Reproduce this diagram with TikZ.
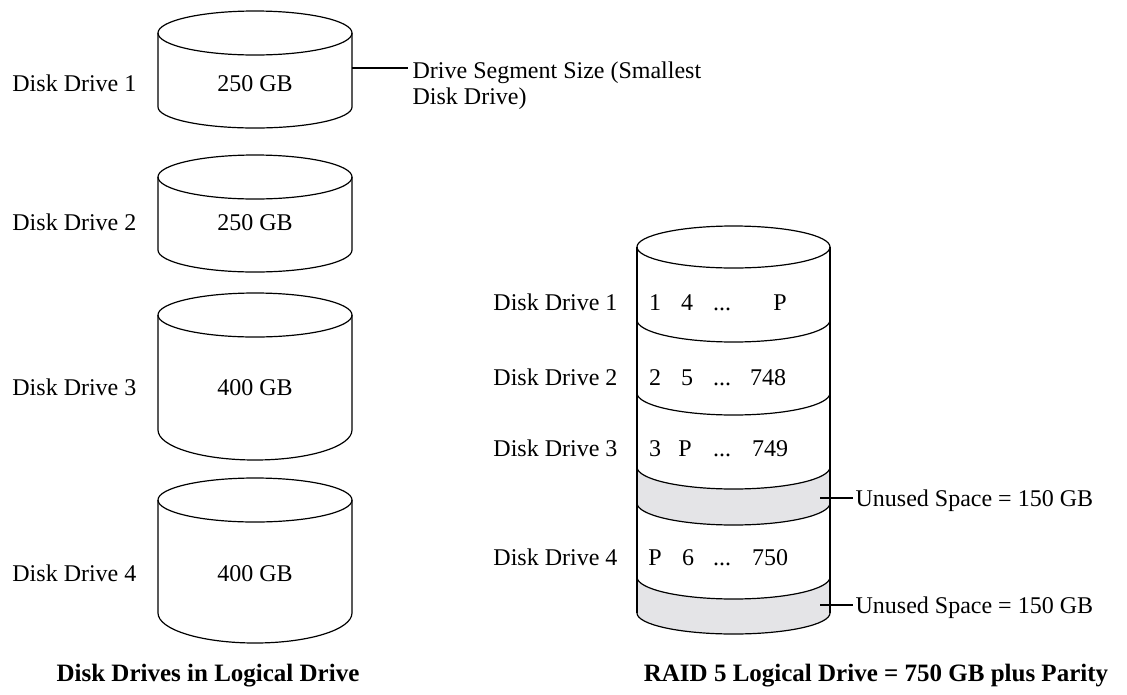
\documentclass[tikz,border=0pt]{standalone}
\usepackage{xcolor}
\usepackage{fontspec}
\setmainfont{Liberation Serif}
\definecolor{unusedgray}{RGB}{228,228,231}

\begin{document}
\begin{tikzpicture}[x=1pt,y=-1pt,line width=1.2pt,font=\fontsize{24}{28}\selectfont]
\tikzstyle{drivename} = [anchor=base east, inner sep=0pt]
\tikzstyle{capacity} = [anchor=base, inner sep=0pt]
\tikzstyle{stripe} = [anchor=base, inner sep=0pt]
\tikzstyle{note} = [anchor=base west, inner sep=0pt]
\tikzstyle{caption} = [anchor=base, inner sep=0pt, font=\fontsize{25}{28}\selectfont\bfseries]
\tikzstyle{unused} = [fill=unusedgray, draw=none]

\useasboundingbox (0,0) rectangle (1127,694);

% left: the four drives
\draw (158,33) -- (158,107) arc[start angle=180, end angle=360, x radius=97pt, y radius=21pt] -- (352,33);
\draw (255,33) ellipse [x radius=97pt, y radius=22pt];
\draw (158,177) -- (158,250) arc[start angle=180, end angle=360, x radius=97pt, y radius=22pt] -- (352,177);
\draw (255,177) ellipse [x radius=97pt, y radius=22pt];
\draw (158,315) -- (158,430) arc[start angle=180, end angle=360, x radius=97pt, y radius=30pt] -- (352,315);
\draw (255,315) ellipse [x radius=97pt, y radius=22pt];
\draw (158,500) -- (158,613) arc[start angle=180, end angle=360, x radius=97pt, y radius=30pt] -- (352,500);
\draw (255,500) ellipse [x radius=97pt, y radius=22pt];

\node(leftDrive1) [drivename] at (137,91) {Disk Drive 1};
\node(leftDrive2) [drivename] at (137,230) {Disk Drive 2};
\node(leftDrive3) [drivename] at (137,395) {Disk Drive 3};
\node(leftDrive4) [drivename] at (137,581) {Disk Drive 4};
\node(size1) [capacity] at (255,91) {250 GB};
\node(size2) [capacity] at (255,230) {250 GB};
\node(size3) [capacity] at (255,395) {400 GB};
\node(size4) [capacity] at (255,581) {400 GB};

\coordinate(segPoint) at (352,68);
\node(segTop) [note] at (412,78) {Drive Segment Size (Smallest};
\node(segBot) [note] at (412,104) {Disk Drive)};
\draw (segPoint) -- ([xshift=-4pt]segPoint -| segTop.west);

% right: the RAID 5 logical drive
\fill[unusedgray] (637,467) arc[start angle=180, end angle=360, x radius=96.5pt, y radius=22pt]
  -- (830,503) arc[start angle=0, end angle=-180, x radius=96.5pt, y radius=22pt] -- cycle;
\fill[unusedgray] (637,577) arc[start angle=180, end angle=360, x radius=96.5pt, y radius=22pt]
  -- (830,613) arc[start angle=0, end angle=-180, x radius=96.5pt, y radius=21pt] -- cycle;
\draw (637,247) -- (637,613);
\draw (830,247) -- (830,613);
\draw (733.5,247) ellipse [x radius=96.5pt, y radius=21pt];
\draw (637,320) arc[start angle=180, end angle=360, x radius=96.5pt, y radius=22pt];
\draw (637,393) arc[start angle=180, end angle=360, x radius=96.5pt, y radius=22pt];
\draw (637,467) arc[start angle=180, end angle=360, x radius=96.5pt, y radius=22pt];
\draw (637,503) arc[start angle=180, end angle=360, x radius=96.5pt, y radius=22pt];
\draw (637,577) arc[start angle=180, end angle=360, x radius=96.5pt, y radius=22pt];
\draw (637,613) arc[start angle=180, end angle=360, x radius=96.5pt, y radius=21pt];

\node(raidDrive1) [drivename] at (618,310) {Disk Drive 1};
\node(raidDrive2) [drivename] at (618,385) {Disk Drive 2};
\node(raidDrive3) [drivename] at (618,456) {Disk Drive 3};
\node(raidDrive4) [drivename] at (618,565) {Disk Drive 4};

\node(rowA1) [stripe] at (655,310) {1};
\node(rowA2) [stripe] at (687,310) {4};
\node(rowA3) [stripe] at (722,310) {...};
\node(rowA4) [stripe] at (780,310) {P};
\node(rowB1) [stripe] at (655,385) {2};
\node(rowB2) [stripe] at (687,385) {5};
\node(rowB3) [stripe] at (722,385) {...};
\node(rowB4) [stripe] at (768,385) {748};
\node(rowC1) [stripe] at (655,456) {3};
\node(rowC2) [stripe] at (685,456) {P};
\node(rowC3) [stripe] at (722,456) {...};
\node(rowC4) [stripe] at (770,456) {749};
\node(rowD1) [stripe] at (655,565) {P};
\node(rowD2) [stripe] at (688,565) {6};
\node(rowD3) [stripe] at (722,565) {...};
\node(rowD4) [stripe] at (770,565) {750};

\coordinate(unusedPoint1) at (820,498);
\coordinate(unusedPoint2) at (820,605);
\node(unusedLabel1) [note] at (855,506) {Unused Space = 150 GB};
\node(unusedLabel2) [note] at (855,613) {Unused Space = 150 GB};
\draw (unusedPoint1) -- ([xshift=-2pt]unusedPoint1 -| unusedLabel1.west);
\draw (unusedPoint2) -- ([xshift=-2pt]unusedPoint2 -| unusedLabel2.west);

\node(leftCaption) [caption] at (208,681) {Disk Drives in Logical Drive};
\node(rightCaption) [caption] at (876,681) {RAID 5 Logical Drive = 750 GB plus Parity};
\end{tikzpicture}
\end{document}
